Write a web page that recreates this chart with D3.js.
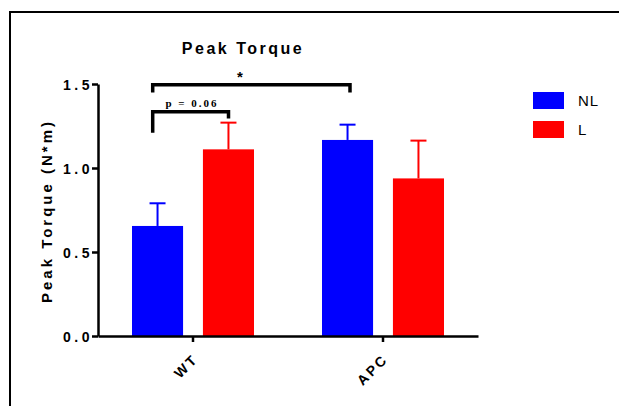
<!DOCTYPE html>
<html>
<head>
<meta charset="utf-8">
<script src="https://cdn.jsdelivr.net/npm/d3@7"></script>
<style>
  html, body { margin: 0; padding: 0; background: #fff; }
  svg { display: block; }
</style>
</head>
<body>
<svg id="chart" width="619" height="406"></svg>
<script>
// Peak torque by genotype and condition
const categories = ["WT", "APC"];
const seriesNames = ["NL", "L"];
const seriesColors = ["#0000ff", "#ff0000"];
const meanNL = [0.655, 1.167];
const meanL = [1.111, 0.938];
const errNL = [0.135, 0.091];
const errL = [0.159, 0.225];
const yTicks = [0.0, 0.5, 1.0, 1.5];

const SANS = "'Liberation Sans', Arial, sans-serif";
const SERIF = "'Liberation Serif', 'Times New Roman', serif";

const svg = d3.select("#chart");

// outer frame
svg.append("rect")
  .attr("x", 10).attr("y", 12)
  .attr("width", 720).attr("height", 500)
  .attr("fill", "none").attr("stroke", "#000").attr("stroke-width", 2);

const plot = { left: 98, right: 478, top: 84, bottom: 336 };

const x = d3.scaleBand().domain(categories).range([plot.left, plot.right]);
const xSub = d3.scaleBand().domain(seriesNames)
  .range([x.bandwidth() / 2 - 61, x.bandwidth() / 2 + 61])
  .paddingInner(0.28);
const y = d3.scaleLinear().domain([0, 1.5]).range([plot.bottom, plot.top]);

const rows = [];
categories.forEach((c, i) => {
  rows.push({ cat: c, s: "NL", v: meanNL[i], e: errNL[i], color: seriesColors[0] });
  rows.push({ cat: c, s: "L", v: meanL[i], e: errL[i], color: seriesColors[1] });
});

// bars
svg.append("g").selectAll("rect").data(rows).join("rect")
  .attr("x", d => x(d.cat) + xSub(d.s))
  .attr("y", d => y(d.v))
  .attr("width", xSub.bandwidth())
  .attr("height", d => y(0) - y(d.v))
  .attr("fill", d => d.color);

// error bars (upper only)
const eb = svg.append("g").selectAll("g").data(rows).join("g")
  .attr("stroke", d => d.color).attr("stroke-width", 2);
eb.append("line")
  .attr("x1", d => x(d.cat) + xSub(d.s) + xSub.bandwidth() / 2)
  .attr("x2", d => x(d.cat) + xSub(d.s) + xSub.bandwidth() / 2)
  .attr("y1", d => y(d.v)).attr("y2", d => y(d.v + d.e));
eb.append("line")
  .attr("x1", d => x(d.cat) + xSub(d.s) + xSub.bandwidth() / 2 - 8)
  .attr("x2", d => x(d.cat) + xSub(d.s) + xSub.bandwidth() / 2 + 8)
  .attr("y1", d => y(d.v + d.e)).attr("y2", d => y(d.v + d.e));

// y axis
const yAxis = svg.append("g")
  .attr("transform", `translate(${plot.left},0)`)
  .call(d3.axisLeft(y).tickValues(yTicks).tickFormat(d3.format(".1f")).tickSize(6).tickSizeOuter(0));
yAxis.select(".domain").attr("stroke-width", 2.5);
yAxis.selectAll(".tick line").attr("stroke-width", 2.5);
yAxis.selectAll(".tick text")
  .attr("x", -5)
  .attr("dy", "0.36em")
  .style("font-family", SANS)
  .style("font-size", "14px").style("font-weight", "bold")
  .style("letter-spacing", "3.5px");

// x axis
const xAxis = svg.append("g")
  .attr("transform", `translate(0,${plot.bottom})`)
  .call(d3.axisBottom(x).tickSize(6).tickSizeOuter(0));
xAxis.select(".domain").attr("stroke-width", 2.5);
xAxis.selectAll(".tick line").attr("stroke-width", 2.5);
xAxis.selectAll(".tick text")
  .attr("text-anchor", "end")
  .attr("dy", 0)
  .attr("x", 0).attr("y", 0)
  .attr("transform", "translate(6,24) rotate(-45)")
  .style("font-family", SANS)
  .style("font-size", "14px").style("font-weight", "bold")
  .style("letter-spacing", "2.5px");

// title
svg.append("text")
  .attr("x", 243).attr("y", 54)
  .attr("text-anchor", "middle")
  .style("font-family", SANS)
  .style("font-size", "16px").style("font-weight", "bold")
  .style("letter-spacing", "2.5px")
  .text("Peak Torque");

// y axis title
svg.append("text")
  .attr("transform", "translate(52,211) rotate(-90)")
  .attr("text-anchor", "middle")
  .style("font-family", SANS)
  .style("font-size", "15px").style("font-weight", "bold")
  .style("letter-spacing", "3px")
  .text("Peak Torque (N*m)");

// significance brackets
const brackets = [
  { x1: 152.7, x2: 350, yTop: 1.495, leftDrop: 1.45, rightDrop: 1.45 },
  { x1: 152.7, x2: 228.5, yTop: 1.335, leftDrop: 1.21, rightDrop: 1.295 }
];
const bg = svg.append("g");
brackets.forEach(b => {
  bg.append("path")
    .attr("d", `M${b.x1},${y(b.leftDrop)} V${y(b.yTop)} H${b.x2} V${y(b.rightDrop)}`)
    .attr("fill", "none").attr("stroke", "#000").attr("stroke-width", 3.5)
    .attr("stroke-linejoin", "miter");
});
bg.append("text")
  .attr("x", 240).attr("y", 82)
  .attr("text-anchor", "middle")
  .style("font-family", SANS)
  .style("font-size", "15px").style("font-weight", "bold")
  .text("*");
bg.append("text")
  .attr("x", 192).attr("y", 106.5)
  .attr("text-anchor", "middle")
  .style("font-family", SERIF)
  .style("font-size", "11px").style("font-weight", "bold")
  .style("letter-spacing", "2px")
  .text("p = 0.06");

// legend
const lg = svg.append("g").selectAll("g").data(seriesNames).join("g")
  .attr("transform", (d, i) => `translate(533,${92 + i * 29})`);
lg.append("rect").attr("width", 31).attr("height", 17)
  .attr("fill", (d, i) => seriesColors[i]);
lg.append("text").attr("x", 45).attr("y", 14)
  .style("font-family", SANS)
  .style("font-size", "15px").style("letter-spacing", "1px")
  .text(d => d);
</script>
</body>
</html>
